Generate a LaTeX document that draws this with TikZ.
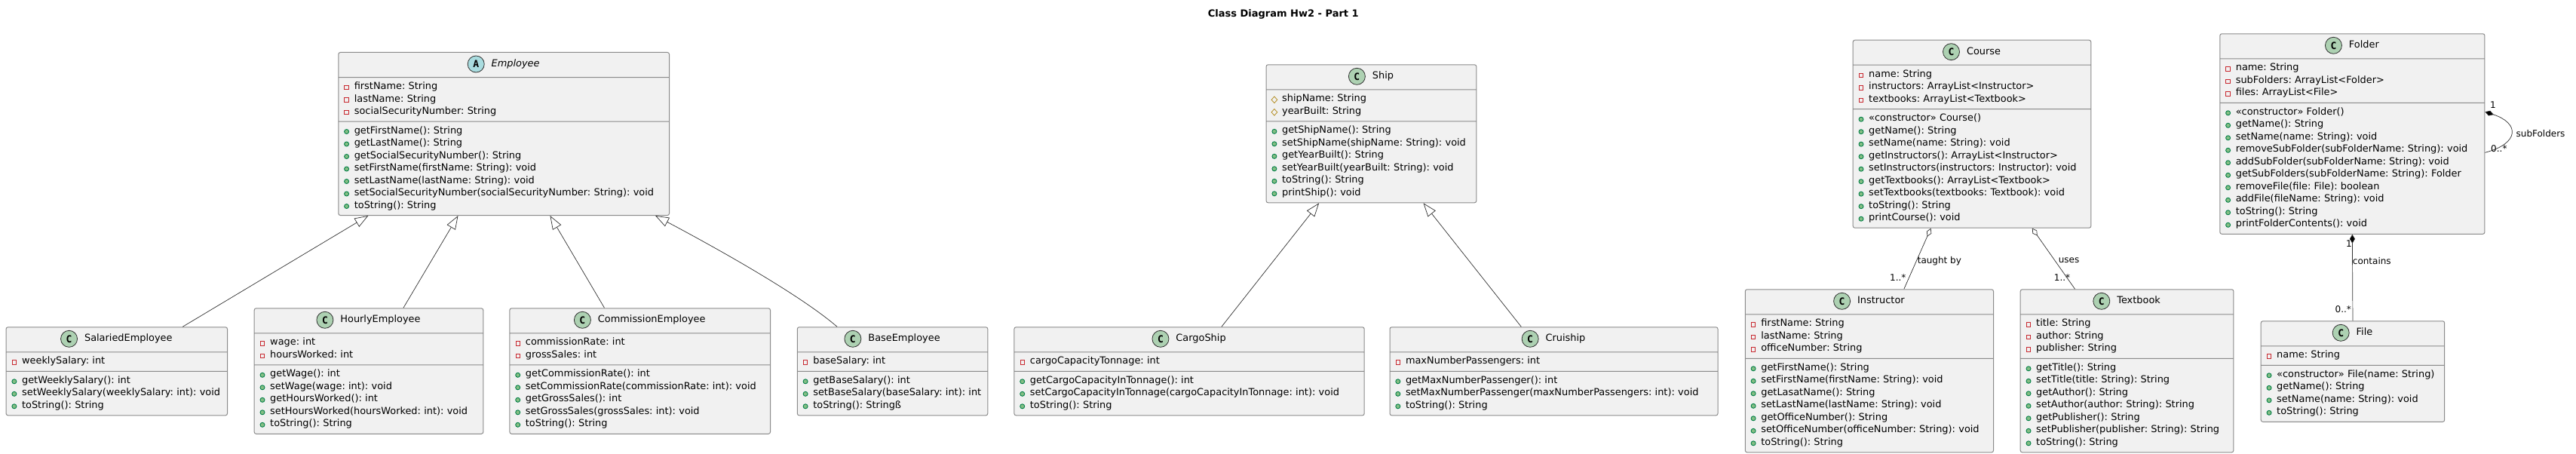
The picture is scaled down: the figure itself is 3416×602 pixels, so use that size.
\documentclass[tikz,border=0pt]{standalone}
\usepackage{fontspec}
\setmainfont{DejaVu Sans}
\setmonofont{DejaVu Sans Mono}
\usetikzlibrary{positioning,shapes.multipart,shapes.geometric,arrows.meta}
\definecolor{FontColor}{HTML}{000000}
\definecolor{BoxFill}{HTML}{F1F1F1}
\definecolor{BoxLine}{HTML}{8A8A8A}
\definecolor{LinkLine}{HTML}{303030}
\definecolor{IconC}{HTML}{ADD1B2}
\definecolor{IconA}{HTML}{A9DCDF}
\definecolor{PrivLine}{HTML}{C82930}
\definecolor{ProtLine}{HTML}{B38D22}
\definecolor{PubLine}{HTML}{038048}
\definecolor{PubFill}{HTML}{84BE84}
\hyphenpenalty=10000
\frenchspacing
\newcommand\classrows[2]{\rule{0pt}{24pt}\nodepart{two}\leftskip=15pt\relax\strut #1\strut\par\nodepart{three}\leftskip=15pt\relax\strut #2\strut\par}
\newcommand\nodeemp{\classrows{firstName: String\\lastName: String\\socialSecurityNumber: String}{getFirstName(): String\\getLastName(): String\\getSocialSecurityNumber(): String\\setFirstName(firstName: String): void\\setLastName(lastName: String): void\\setSocialSecurityNumber(socialSecurityNumber: String): void\\toString(): String}}
\newcommand\nodesal{\classrows{weeklySalary: int}{getWeeklySalary(): int\\setWeeklySalary(weeklySalary: int): void\\toString(): String}}
\newcommand\nodehour{\classrows{wage: int\\hoursWorked: int}{getWage(): int\\setWage(wage: int): void\\getHoursWorked(): int\\setHoursWorked(hoursWorked: int): void\\toString(): String}}
\newcommand\nodecomm{\classrows{commissionRate: int\\grossSales: int}{getCommissionRate(): int\\setCommissionRate(commissionRate: int): void\\getGrossSales(): int\\setGrossSales(grossSales: int): void\\toString(): String}}
\newcommand\nodebase{\classrows{baseSalary: int}{getBaseSalary(): int\\setBaseSalary(baseSalary: int): int\\toString(): Stringß}}
\newcommand\nodeship{\classrows{shipName: String\\yearBuilt: String}{getShipName(): String\\setShipName(shipName: String): void\\getYearBuilt(): String\\setYearBuilt(yearBuilt: String): void\\toString(): String\\printShip(): void}}
\newcommand\nodecargo{\classrows{cargoCapacityTonnage: int}{getCargoCapacityInTonnage(): int\\setCargoCapacityInTonnage(cargoCapacityInTonnage: int): void\\toString(): String}}
\newcommand\nodecruise{\classrows{maxNumberPassengers: int}{getMaxNumberPassenger(): int\\setMaxNumberPassenger(maxNumberPassengers: int): void\\toString(): String}}
\newcommand\nodecourse{\classrows{name: String\\instructors: ArrayList<Instructor>\\textbooks: ArrayList<Textbook>}{«constructor» Course()\\getName(): String\\setName(name: String): void\\getInstructors(): ArrayList<Instructor>\\setInstructors(instructors: Instructor): void\\getTextbooks(): ArrayList<Textbook>\\setTextbooks(textbooks: Textbook): void\\toString(): String\\printCourse(): void}}
\newcommand\nodeinst{\classrows{firstName: String\\lastName: String\\officeNumber: String}{getFirstName(): String\\setFirstName(firstName: String): void\\getLasatName(): String\\setLastName(lastName: String): void\\getOfficeNumber(): String\\setOfficeNumber(officeNumber: String): void\\toString(): String}}
\newcommand\nodebook{\classrows{title: String\\author: String\\publisher: String}{getTitle(): String\\setTitle(title: String): String\\getAuthor(): String\\setAuthor(author: String): String\\getPublisher(): String\\setPublisher(publisher: String): String\\toString(): String}}
\newcommand\nodefolder{\classrows{name: String\\subFolders: ArrayList<Folder>\\files: ArrayList<File>}{«constructor» Folder()\\getName(): String\\setName(name: String): void\\removeSubFolder(subFolderName: String): void\\addSubFolder(subFolderName: String): void\\getSubFolders(subFolderName: String): Folder\\removeFile(file: File): boolean\\addFile(fileName: String): void\\toString(): String\\printFolderContents(): void}}
\newcommand\nodefile{\classrows{name: String}{«constructor» File(name: String)\\getName(): String\\setName(name: String): void\\toString(): String}}
\tikzset{>=latex,
  classbox/.style={rectangle split, rectangle split parts=3, anchor=north west, draw=BoxLine, fill=BoxFill,
    rounded corners=2.5pt, line width=1pt, inner xsep=6pt, inner ysep=4pt, text=FontColor, text width=#1,
    font=\fontsize{12.9}{16.5}\selectfont},
  titletext/.style={inner sep=0pt, outer sep=0pt, text height=10pt, text depth=3pt, text=FontColor, font=\fontsize{12.9}{16.5}\selectfont},
  cicon/.style={circle, minimum size=22pt, inner sep=0pt, outer sep=0pt, draw=LinkLine, line width=.8pt, fill=IconC, font=\ttfamily\bfseries\fontsize{13}{13}\selectfont},
  aicon/.style={cicon, fill=IconA},
  privmark/.style={rectangle, minimum size=5.5pt, inner sep=0pt, draw=PrivLine, line width=.9pt},
  pubmark/.style={circle, minimum size=6pt, inner sep=0pt, draw=PubLine, fill=PubFill, line width=.9pt},
  protmark/.style={diamond, minimum width=8pt, minimum height=9pt, inner sep=0pt, draw=ProtLine, line width=.8pt},
  extends/.style={{Triangle[fill=white,length=18pt,width=13pt]}-, draw=LinkLine, line width=.7pt},
  agg/.style={{Diamond[fill=white,length=12pt,width=7pt]}-, draw=LinkLine, line width=.7pt},
  comp/.style={{Diamond[fill=black,length=12pt,width=7pt]}-, draw=LinkLine, line width=.7pt},
  linklabel/.style={inner sep=0pt, text=FontColor, font=\fontsize{12}{14}\selectfont}}
% title and icon of a class, then its rows of marks
\newcommand\classhead[4]{\node[titletext] (#1title) at ([xshift=15.5pt,yshift=-16pt]#1.north) {#4};
  \node[#2, left=9.5pt of #1title] (#1icon) {#3};}
\newcommand\markrows[4]{\foreach \i in {1,...,#3} \path (#1.#2) ++(11.3,{-13.5-16.5*(\i-1)}) node[#4] (#1#4\i) {};}

\begin{document}
\begin{tikzpicture}[x=1pt,y=1pt]
\useasboundingbox (0,0) rectangle (3416,-602);
\node[inner sep=0pt, font=\bfseries\fontsize{13}{16}\selectfont] (title) at (1701.8,-19) {Class Diagram Hw2 - Part 1};
\node[classbox=426.7pt] (emp) at (448.3,-69) {\nodeemp};
\node[classbox=281.4pt] (sal) at (7.6,-433.3) {\nodesal};
\node[classbox=291.6pt] (hour) at (336.7,-408.3) {\nodehour};
\node[classbox=333.6pt] (comm) at (675.4,-408.3) {\nodecomm};
\node[classbox=240.5pt] (base) at (1056.8,-433.3) {\nodebase};
\node[classbox=266.7pt] (ship) at (1678.6,-85.3) {\nodeship};
\node[classbox=452.3pt] (cargo) at (1344.4,-433.3) {\nodecargo};
\node[classbox=423pt] (cruise) at (1842.5,-433.3) {\nodecruise};
\node[classbox=303.6pt] (course) at (2456.7,-52.7) {\nodecourse};
\node[classbox=317.2pt] (inst) at (2313.8,-383.3) {\nodeinst};
\node[classbox=270.7pt] (book) at (2678.7,-383.3) {\nodebook};
\node[classbox=339.1pt] (folder) at (2943.3,-44.3) {\nodefolder};
\node[classbox=231.5pt] (file) at (2997.7,-425.3) {\nodefile};
\classhead{emp}{aicon}{A}{\itshape Employee}
\classhead{sal}{cicon}{C}{SalariedEmployee}
\classhead{hour}{cicon}{C}{HourlyEmployee}
\classhead{comm}{cicon}{C}{CommissionEmployee}
\classhead{base}{cicon}{C}{BaseEmployee}
\classhead{ship}{cicon}{C}{Ship}
\classhead{cargo}{cicon}{C}{CargoShip}
\classhead{cruise}{cicon}{C}{Cruiship}
\classhead{course}{cicon}{C}{Course}
\classhead{inst}{cicon}{C}{Instructor}
\classhead{book}{cicon}{C}{Textbook}
\classhead{folder}{cicon}{C}{Folder}
\classhead{file}{cicon}{C}{File}
\markrows{emp}{text split west}{3}{privmark}
\markrows{emp}{two split west}{7}{pubmark}
\markrows{sal}{text split west}{1}{privmark}
\markrows{sal}{two split west}{3}{pubmark}
\markrows{hour}{text split west}{2}{privmark}
\markrows{hour}{two split west}{5}{pubmark}
\markrows{comm}{text split west}{2}{privmark}
\markrows{comm}{two split west}{5}{pubmark}
\markrows{base}{text split west}{1}{privmark}
\markrows{base}{two split west}{3}{pubmark}
\markrows{ship}{text split west}{2}{protmark}
\markrows{ship}{two split west}{6}{pubmark}
\markrows{cargo}{text split west}{1}{privmark}
\markrows{cargo}{two split west}{3}{pubmark}
\markrows{cruise}{text split west}{1}{privmark}
\markrows{cruise}{two split west}{3}{pubmark}
\markrows{course}{text split west}{3}{privmark}
\markrows{course}{two split west}{9}{pubmark}
\markrows{inst}{text split west}{3}{privmark}
\markrows{inst}{two split west}{7}{pubmark}
\markrows{book}{text split west}{3}{privmark}
\markrows{book}{two split west}{7}{pubmark}
\markrows{folder}{text split west}{3}{privmark}
\markrows{folder}{two split west}{10}{pubmark}
\markrows{file}{text split west}{1}{privmark}
\markrows{file}{two split west}{4}{pubmark}
\draw [extends] ([xshift=-179.8pt]emp.south) -- ([xshift=87.4pt]sal.north);
\draw [extends] ([xshift=-60.7pt]emp.south) -- ([xshift=45.9pt]hour.north);
\draw [extends] ([xshift=61.3pt]emp.south) -- ([xshift=-47.2pt]comm.north);
\draw [extends] ([xshift=200.9pt]emp.south) .. controls +(81,-43) and +(-50,43) .. ([xshift=-73.4pt]base.north);
\draw [extends] ([xshift=-69.3pt]ship.south) -- ([xshift=42.8pt]cargo.north);
\draw [extends] ([xshift=69.05pt]ship.south) -- ([xshift=-43.2pt]cruise.north);
\draw [agg] ([xshift=-54.5pt]course.south) -- ([xshift=45.9pt]inst.north);
\draw [agg] ([xshift=79.8pt]course.south) -- ([xshift=-69pt]book.north);
\draw [comp] (folder.south) -- (file.north);
\draw [comp] ([yshift=-104pt]folder.north east) .. controls +(46,-15) and +(46,12) .. ([yshift=-158pt]folder.north east);
\node[linklabel, anchor=west] (taught) at (2542.6,-345.7) {taught by};
\node[linklabel, anchor=west] (uses) at (2729.6,-345.7) {uses};
\node[linklabel, anchor=west] (instmult) at (2506,-368) {1..*};
\node[linklabel, anchor=west] (bookmult) at (2723.7,-368) {1..*};
\node[linklabel, anchor=west] (contains) at (3119.7,-345.7) {contains};
\node[linklabel] (fileone) at (3115,-323) {1};
\node[linklabel, anchor=west] (filemult) at (3096.4,-410) {0..*};
\node[linklabel] (subone) at (3306,-139) {1};
\node[linklabel, anchor=west] (submult) at (3303,-196.7) {0..*};
\node[linklabel, anchor=west] (subfolders) at (3336.4,-176.7) {subFolders};
\end{tikzpicture}
\end{document}
